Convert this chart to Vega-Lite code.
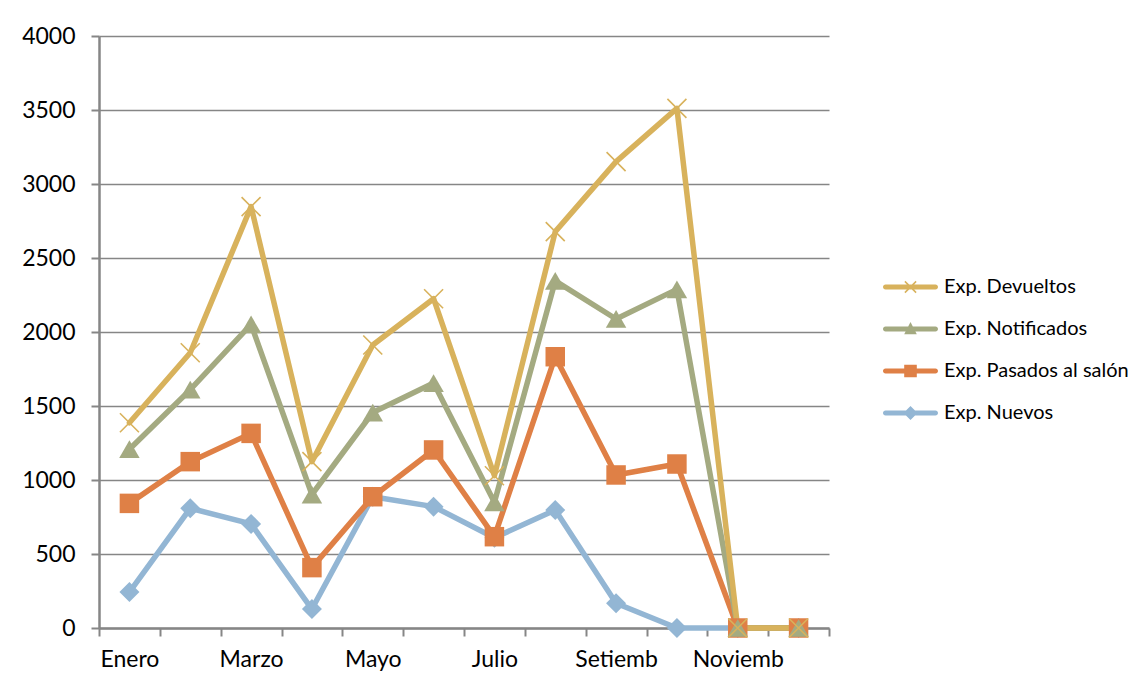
{
  "$schema": "https://vega.github.io/schema/vega-lite/v6.json",
  "width": 730,
  "height": 592,
  "autosize": {"type": "none"},
  "padding": {"left": 99, "top": 36, "right": 313, "bottom": 62},
  "background": "white",
  "config": {
    "view": {"stroke": null},
    "font": "Lato",
    "axis": {"labelFont": "Lato", "labelColor": "#000000", "title": null}
  },
  "data": {
    "values": [
      {"mes": "Enero", "serie": "Exp. Nuevos", "valor": 243},
      {"mes": "Febrero", "serie": "Exp. Nuevos", "valor": 809},
      {"mes": "Marzo", "serie": "Exp. Nuevos", "valor": 703},
      {"mes": "Abril", "serie": "Exp. Nuevos", "valor": 128},
      {"mes": "Mayo", "serie": "Exp. Nuevos", "valor": 887},
      {"mes": "Junio", "serie": "Exp. Nuevos", "valor": 820},
      {"mes": "Julio", "serie": "Exp. Nuevos", "valor": 610},
      {"mes": "Agosto", "serie": "Exp. Nuevos", "valor": 797},
      {"mes": "Setiembre", "serie": "Exp. Nuevos", "valor": 167},
      {"mes": "Octubre", "serie": "Exp. Nuevos", "valor": 0},
      {"mes": "Noviembre", "serie": "Exp. Nuevos", "valor": 0},
      {"mes": "Diciembre", "serie": "Exp. Nuevos", "valor": 0},
      {"mes": "Enero", "serie": "Exp. Pasados al salón", "valor": 842},
      {"mes": "Febrero", "serie": "Exp. Pasados al salón", "valor": 1124},
      {"mes": "Marzo", "serie": "Exp. Pasados al salón", "valor": 1315},
      {"mes": "Abril", "serie": "Exp. Pasados al salón", "valor": 408},
      {"mes": "Mayo", "serie": "Exp. Pasados al salón", "valor": 887},
      {"mes": "Junio", "serie": "Exp. Pasados al salón", "valor": 1203},
      {"mes": "Julio", "serie": "Exp. Pasados al salón", "valor": 617},
      {"mes": "Agosto", "serie": "Exp. Pasados al salón", "valor": 1833},
      {"mes": "Setiembre", "serie": "Exp. Pasados al salón", "valor": 1034},
      {"mes": "Octubre", "serie": "Exp. Pasados al salón", "valor": 1108},
      {"mes": "Noviembre", "serie": "Exp. Pasados al salón", "valor": 0},
      {"mes": "Diciembre", "serie": "Exp. Pasados al salón", "valor": 0},
      {"mes": "Enero", "serie": "Exp. Notificados", "valor": 1208},
      {"mes": "Febrero", "serie": "Exp. Notificados", "valor": 1610},
      {"mes": "Marzo", "serie": "Exp. Notificados", "valor": 2051},
      {"mes": "Abril", "serie": "Exp. Notificados", "valor": 902},
      {"mes": "Mayo", "serie": "Exp. Notificados", "valor": 1456},
      {"mes": "Junio", "serie": "Exp. Notificados", "valor": 1655},
      {"mes": "Julio", "serie": "Exp. Notificados", "valor": 849},
      {"mes": "Agosto", "serie": "Exp. Notificados", "valor": 2345},
      {"mes": "Setiembre", "serie": "Exp. Notificados", "valor": 2088},
      {"mes": "Octubre", "serie": "Exp. Notificados", "valor": 2288},
      {"mes": "Noviembre", "serie": "Exp. Notificados", "valor": 0},
      {"mes": "Diciembre", "serie": "Exp. Notificados", "valor": 0},
      {"mes": "Enero", "serie": "Exp. Devueltos", "valor": 1387},
      {"mes": "Febrero", "serie": "Exp. Devueltos", "valor": 1860},
      {"mes": "Marzo", "serie": "Exp. Devueltos", "valor": 2847},
      {"mes": "Abril", "serie": "Exp. Devueltos", "valor": 1124},
      {"mes": "Mayo", "serie": "Exp. Devueltos", "valor": 1912},
      {"mes": "Junio", "serie": "Exp. Devueltos", "valor": 2225},
      {"mes": "Julio", "serie": "Exp. Devueltos", "valor": 1029},
      {"mes": "Agosto", "serie": "Exp. Devueltos", "valor": 2678},
      {"mes": "Setiembre", "serie": "Exp. Devueltos", "valor": 3151},
      {"mes": "Octubre", "serie": "Exp. Devueltos", "valor": 3511},
      {"mes": "Noviembre", "serie": "Exp. Devueltos", "valor": 0},
      {"mes": "Diciembre", "serie": "Exp. Devueltos", "valor": 0}
    ]
  },
  "encoding": {
    "x": {
      "field": "mes",
      "type": "ordinal",
      "sort": ["Enero", "Febrero", "Marzo", "Abril", "Mayo", "Junio", "Julio", "Agosto", "Setiembre", "Octubre", "Noviembre", "Diciembre"],
      "scale": {"type": "band", "paddingInner": 0, "paddingOuter": 0},
      "axis": {
        "title": null,
        "tickBand": "extent",
        "grid": false,
        "domainColor": "#868686",
        "domainWidth": 2.5,
        "tickColor": "#868686",
        "tickWidth": 2,
        "tickSize": 8,
        "labelFontSize": 23,
        "labelPadding": 12,
        "labelAngle": 0,
        "labelOverlap": false,
        "labelBound": false,
        "labelExpr": "indexof(['Enero','Marzo','Mayo','Julio','Setiembre','Noviembre'], datum.value) >= 0 ? substring(datum.value, 0, 7) : ''"
      }
    },
    "y": {
      "field": "valor",
      "type": "quantitative",
      "scale": {"domain": [0, 4000], "nice": false},
      "axis": {
        "title": null,
        "format": "d",
        "values": [0, 500, 1000, 1500, 2000, 2500, 3000, 3500, 4000],
        "grid": true,
        "gridColor": "#868686",
        "gridWidth": 1.5,
        "domainColor": "#868686",
        "domainWidth": 2.5,
        "tickColor": "#868686",
        "tickWidth": 2,
        "tickSize": 8,
        "labelFontSize": 23,
        "labelPadding": 16
      }
    },
    "color": {
      "field": "serie",
      "type": "nominal",
      "scale": {
        "domain": ["Exp. Devueltos", "Exp. Notificados", "Exp. Pasados al salón", "Exp. Nuevos"],
        "range": ["#D8B25C", "#A4AA81", "#DF8046", "#93B6D4"]
      },
      "legend": {
        "title": null,
        "orient": "none",
        "legendX": 801.5,
        "legendY": 241,
        "padding": 0,
        "symbolOffset": 0,
        "symbolSize": 196,
        "labelOffset": 23.5,
        "labelFont": "Lato",
        "labelFontSize": 20,
        "labelColor": "#000000",
        "labelLimit": 400,
        "rowPadding": 22,
        "encode": {
          "symbols": {
            "update": {
              "fill": {"scale": "color", "field": "value"},
              "stroke": {"value": "transparent"},
              "strokeWidth": {"value": 0},
              "opacity": {"value": 1},
              "size": {"value": 196},
              "shape": {"signal": "datum.value == 'Exp. Devueltos' ? 'M-3.57,-0.357H3.57A0.357,0.357 0 0 1 3.57,0.357H-3.57A0.357,0.357 0 0 1 -3.57,-0.357ZM-0.724,-0.876L0.876,0.724L0.724,0.876L-0.876,-0.724ZM-0.876,0.724L0.724,-0.876L0.876,-0.724L-0.724,0.876Z' : datum.value == 'Exp. Notificados' ? 'M-3.57,-0.357H3.57A0.357,0.357 0 0 1 3.57,0.357H-3.57A0.357,0.357 0 0 1 -3.57,-0.357ZM0,-1L0.9,0.75L-0.9,0.75Z' : datum.value == 'Exp. Pasados al salón' ? 'M-3.57,-0.357H3.57A0.357,0.357 0 0 1 3.57,0.357H-3.57A0.357,0.357 0 0 1 -3.57,-0.357ZM-0.9,-0.9H0.9V0.9H-0.9Z' : 'M-3.57,-0.357H3.57A0.357,0.357 0 0 1 3.57,0.357H-3.57A0.357,0.357 0 0 1 -3.57,-0.357ZM0,-1L1,0L0,1L-1,0Z'"}
            }
          }
        }
      }
    }
  },
  "layer": [
    {
      "mark": {"type": "line", "strokeWidth": 5.5, "strokeJoin": "round", "strokeCap": "round"}
    },
    {
      "transform": [{"filter": "datum.serie == 'Exp. Nuevos'"}],
      "mark": {"type": "point", "shape": "diamond", "filled": true, "opacity": 1, "size": 400, "strokeWidth": 0}
    },
    {
      "transform": [{"filter": "datum.serie == 'Exp. Pasados al salón'"}],
      "mark": {"type": "point", "shape": "square", "filled": true, "opacity": 1, "size": 380, "strokeWidth": 0}
    },
    {
      "transform": [{"filter": "datum.serie == 'Exp. Notificados'"}],
      "mark": {"type": "point", "shape": "triangle-up", "filled": true, "opacity": 1, "size": 420, "strokeWidth": 0}
    },
    {
      "transform": [{"filter": "datum.serie == 'Exp. Devueltos'"}],
      "mark": {"type": "point", "shape": "M-1,-1L1,1M-1,1L1,-1", "filled": false, "opacity": 1, "size": 361, "strokeWidth": 1.6}
    }
  ]
}
